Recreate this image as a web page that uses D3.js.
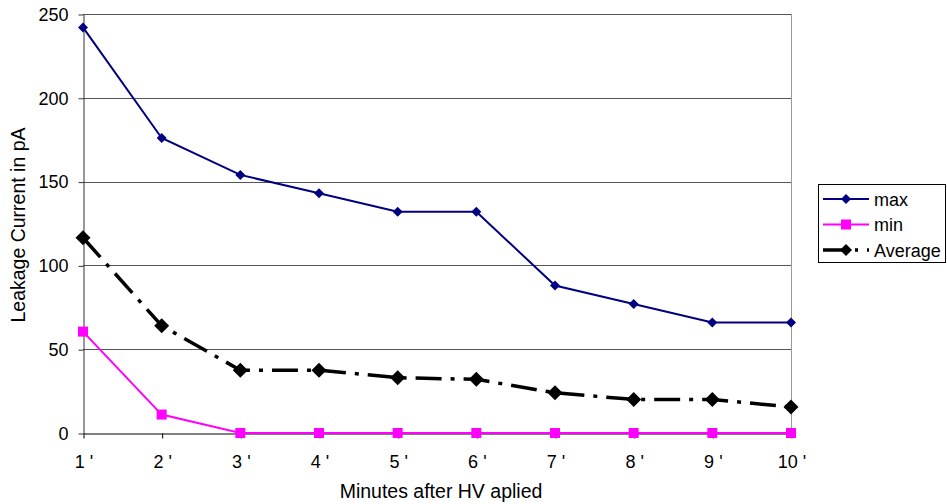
<!DOCTYPE html>
<html>
<head>
<meta charset="utf-8">
<script src="https://cdn.jsdelivr.net/npm/d3@7"></script>
<style>
  body { margin: 0; background: #fff; }
  svg { font-family: "Liberation Sans", Arial, sans-serif; }
</style>
</head>
<body>
<svg id="chart" width="947" height="504"></svg>
<script>
// Leakage current vs minutes after HV applied
const categories = ["1 '", "2 '", "3 '", "4 '", "5 '", "6 '", "7 '", "8 '", "9 '", "10 '"];
const maxValues = [242, 176, 154, 143, 132, 132, 88, 77, 66, 66];
const minValues = [60.5, 11, 0, 0, 0, 0, 0, 0, 0, 0];
const avgValues = [116.5, 64, 37.5, 37.5, 33, 32, 24, 20, 20, 15.5];
const yTicks = [0, 50, 100, 150, 200, 250];

const svg = d3.select("#chart");
const plot = {left: 83, right: 791, top: 14, bottom: 433};
const fontSize = 18;
const titleSize = 19.5;

const x = d3.scalePoint().domain(categories).range([plot.left, plot.right]);
const y = d3.scaleLinear().domain([0, 250]).range([plot.bottom, plot.top]);

// gridlines
svg.append("g")
    .selectAll("line")
    .data(yTicks.filter(d => d > 0))
    .enter()
    .append("line")
    .attr("x1", plot.left)
    .attr("x2", plot.right)
    .attr("y1", d => Math.round(y(d)) + 0.5)
    .attr("y2", d => Math.round(y(d)) + 0.5)
    .attr("stroke", "#555")
    .attr("stroke-width", 1);

// right border of plot area
svg.append("line")
    .attr("x1", plot.right + 0.5).attr("x2", plot.right + 0.5)
    .attr("y1", plot.top).attr("y2", plot.bottom)
    .attr("stroke", "#999");

// y axis
const yAxis = svg.append("g")
    .attr("transform", `translate(${plot.left + 0.5},0.5)`)
    .call(d3.axisLeft(y).tickValues(yTicks).tickSize(5).tickSizeOuter(0));
yAxis.select(".domain").attr("stroke", "#333");
yAxis.selectAll(".tick line").attr("stroke", "#333");
yAxis.selectAll("text")
    .attr("font-size", fontSize)
    .attr("font-family", "Liberation Sans, Arial, sans-serif")
    .attr("fill", "#000")
    .attr("x", -15);

// x axis
const xAxis = svg.append("g")
    .attr("transform", `translate(0.5,${plot.bottom + 0.5})`)
    .call(d3.axisBottom(x).tickSize(5).tickSizeOuter(0));
xAxis.select(".domain").attr("stroke", "#000");
xAxis.selectAll(".tick line").attr("stroke", "#000");
xAxis.selectAll("text")
    .attr("font-size", fontSize)
    .attr("font-family", "Liberation Sans, Arial, sans-serif")
    .attr("fill", "#000")
    .attr("dy", null)
    .attr("y", 34);

// axis titles
svg.append("text")
    .attr("x", 441)
    .attr("y", 498)
    .attr("text-anchor", "middle")
    .attr("font-size", titleSize)
    .text("Minutes after HV aplied");

svg.append("text")
    .attr("transform", "translate(25,225) rotate(-90)")
    .attr("text-anchor", "middle")
    .attr("font-size", titleSize)
    .text("Leakage Current in pA");

const line = d3.line().x((d, i) => x(categories[i])).y(d => y(d));

const series = [
    {name: "max", values: maxValues, color: "#000080", width: 2, dash: null, marker: "diamond", size: 5},
    {name: "min", values: minValues, color: "#ff00ff", width: 2, dash: null, marker: "square", size: 5},
    {name: "Average", values: avgValues, color: "#000", width: 3.5, dash: "26,9,4,9", marker: "diamond", size: 7.5}
];

function drawMarker(g, type, cx, cy, s, color) {
    if (type === "diamond") {
        g.append("path")
            .attr("d", `M${cx},${cy - s}L${cx + s},${cy}L${cx},${cy + s}L${cx - s},${cy}Z`)
            .attr("fill", color);
    } else {
        g.append("rect")
            .attr("x", cx - s).attr("y", cy - s)
            .attr("width", 2 * s).attr("height", 2 * s)
            .attr("fill", color);
    }
}

series.forEach(s => {
    const g = svg.append("g");
    g.append("path")
        .datum(s.values)
        .attr("d", line)
        .attr("fill", "none")
        .attr("stroke", s.color)
        .attr("stroke-width", s.width)
        .attr("stroke-dasharray", s.dash);
    s.values.forEach((v, i) => drawMarker(g, s.marker, x(categories[i]), y(v), s.size, s.color));
});

// legend
const legend = svg.append("g");
legend.append("rect")
    .attr("x", 818.5).attr("y", 184.5)
    .attr("width", 127).attr("height", 78)
    .attr("fill", "#fff")
    .attr("stroke", "#000");

series.forEach((s, i) => {
    const ly = 199 + i * 25.5;
    legend.append("line")
        .attr("x1", 823).attr("x2", 869)
        .attr("y1", ly).attr("y2", ly)
        .attr("stroke", s.color)
        .attr("stroke-width", s.width)
        .attr("stroke-dasharray", s.name === "Average" ? "23,9,3,9" : null);
    drawMarker(legend, s.marker, 846, ly, s.name === "Average" ? 6 : 5, s.color);
    legend.append("text")
        .attr("x", 874)
        .attr("y", ly + 6.5)
        .attr("font-size", fontSize)
        .text(s.name);
});
</script>
</body>
</html>
